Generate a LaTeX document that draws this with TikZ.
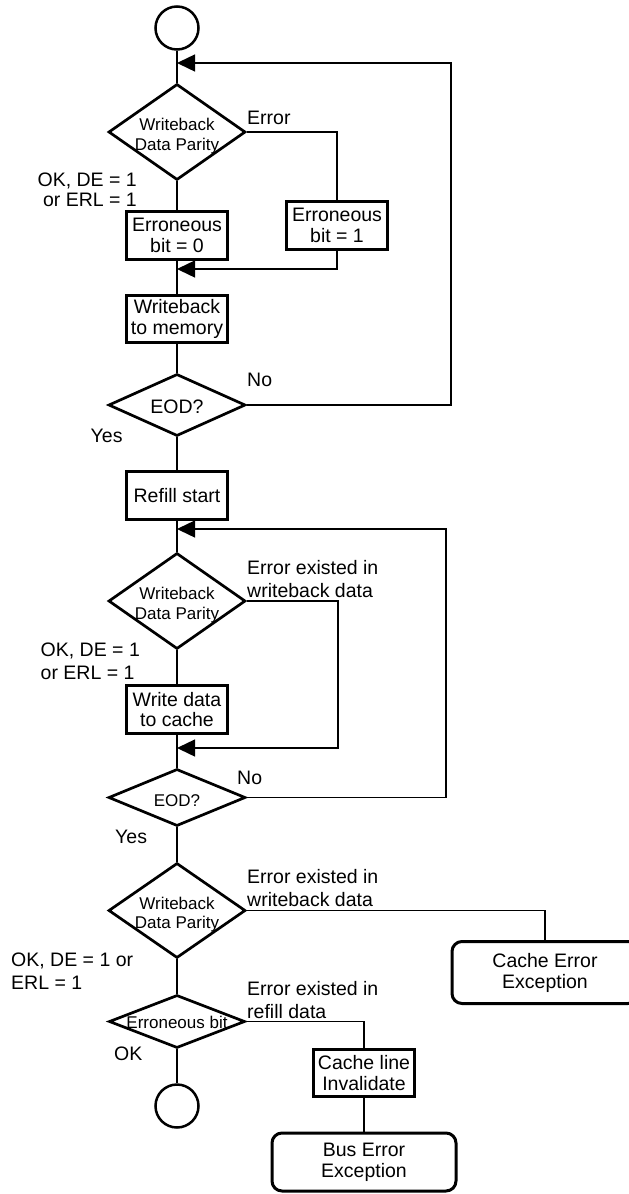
\documentclass[tikz,border=0pt]{standalone}
\usepackage{fontspec}
\setmainfont{Liberation Sans}
\usetikzlibrary{shapes.geometric,arrows.meta}
\begin{document}
\begin{tikzpicture}[x=1pt,y=-1pt,
  conn/.style={line width=1.4pt},
  arr/.style={conn,-{Triangle[length=18pt,width=17pt]}},
  stepbox/.style={draw,line width=3pt,minimum width=101pt,minimum height=47.5pt,inner sep=0pt,align=center,font=\fontsize{19.5}{20.3}\selectfont},
  excbox/.style={draw,line width=3pt,rounded corners=10pt,minimum width=185pt,minimum height=60pt,inner sep=0pt,align=center,font=\fontsize{19.5}{21}\selectfont},
  decision/.style={draw,diamond,line width=2.7pt,inner sep=0pt,minimum width=137pt},
  term/.style={draw,circle,line width=2.5pt,minimum size=43pt,inner sep=0pt},
  lbl/.style={inner sep=0pt,font=\fontsize{19.5}{22.7}\selectfont},
  dtext/.style={font=\fontsize{17}{19.7}\selectfont,align=center,inner sep=0pt}
]
\useasboundingbox (0,0) rectangle (629,1194);
\clip (0,0) rectangle (629,1194);

% ---- writeback phase
\node[term] (start) at (177,28) {};
\node[decision,minimum height=96pt,label={[dtext,yshift=-4pt]center:{Writeback\\Data Parity}}] (d1) at (177,132) {};
\node[stepbox] (b0) at (177,235.5) {Erroneous\\bit = 0};
\node[stepbox] (b1) at (337,225.5) {Erroneous\\bit = 1};
\node[stepbox] (b2) at (177,319) {Writeback\\to memory};
\node[decision,minimum height=62pt,label={[dtext,font=\fontsize{19.5}{20}\selectfont,yshift=-2pt]center:EOD?}] (e1) at (177,405) {};

% ---- refill phase
\node[stepbox] (b3) at (177,495.7) {Refill start};
\node[decision,minimum height=96pt,label={[dtext,yshift=-4pt]center:{Writeback\\Data Parity}}] (d2) at (177,601) {};
\node[stepbox] (b4) at (177,709.5) {Write data\\to cache};
\node[decision,minimum height=57pt,label={[dtext,yshift=-3pt]center:EOD?}] (e2) at (177,797.5) {};

% ---- final checks
\node[decision,minimum height=95pt,label={[dtext,yshift=-4pt]center:{Writeback\\Data Parity}}] (d3) at (177,910.5) {};
\node[decision,minimum height=53pt,minimum width=136pt,label={[dtext,yshift=-1pt]center:Erroneous bit}] (d4) at (177,1021.5) {};
\node[term] (end) at (177,1106) {};
\node[excbox,minimum width=186pt,minimum height=62pt] (cee) at (545,972.5) {Cache Error\\Exception};
\node[stepbox] (b5) at (364,1073) {Cache line\\Invalidate};
\node[excbox,minimum width=184pt,minimum height=58pt] (bee) at (364,1162) {Bus Error\\Exception};

% ---- junctions and loop corners
\coordinate (j1) at (177,63);
\coordinate (j2) at (177,269);
\coordinate (j3) at (177,529);
\coordinate (j4) at (177,748);
\coordinate (r1) at (451,63);
\coordinate (r2) at (446,529);
\coordinate (r3) at (338,748);

% ---- connectors
\draw[conn] (start.south) -- (d1.north);
\draw[conn] (d1.south) -- (b0.north);
\draw[conn] (d1.east) -| (b1.north);
\draw[arr] (b1.south) |- (j2);
\draw[conn] (b0.south) -- (b2.north);
\draw[conn] (b2.south) -- (e1.north);
\draw[arr] (e1.east) -| (r1) -- (j1);
\draw[conn] (e1.south) -- (b3.north);
\draw[conn] (b3.south) -- (d2.north);
\draw[arr] (d2.east) -| (r3) -- (j4);
\draw[conn] (d2.south) -- (b4.north);
\draw[conn] (b4.south) -- (e2.north);
\draw[arr] (e2.east) -| (r2) -- (j3);
\draw[conn] (e2.south) -- (d3.north);
\draw[conn] (d3.east) -| (cee.north);
\draw[conn] (d3.south) -- (d4.north);
\draw[conn] (d4.east) -| (b5.north);
\draw[conn] (b5.south) -- (bee.north);
\draw[conn] (d4.south) -- (end.north);

% ---- branch labels
\node[lbl,anchor=north west] (tErr1) at (247,111) {Error};
\node[lbl,anchor=north east,align=right,font=\fontsize{19.5}{19.7}\selectfont] (tOk1) at (137,172.5) {OK, DE = 1\\or ERL = 1};
\node[lbl,anchor=north west] (tNo1) at (247,373) {No};
\node[lbl,anchor=north west] (tYes1) at (90.5,429) {Yes};
\node[lbl,anchor=north west,align=left] (tErr2) at (247,560) {Error existed in\\writeback data};
\node[lbl,anchor=north west,align=left,font=\fontsize{19.5}{23.3}\selectfont] (tOk2) at (40.5,642.5) {OK, DE = 1\\or ERL = 1};
\node[lbl,anchor=north west] (tNo2) at (237,771) {No};
\node[lbl,anchor=north west] (tYes2) at (115,830) {Yes};
\node[lbl,anchor=north west,align=left] (tErr3) at (247,869) {Error existed in\\writeback data};
\node[lbl,anchor=north west,align=left] (tOk3) at (11,952.5) {OK, DE = 1 or\\ERL = 1};
\node[lbl,anchor=north west,align=left] (tErr4) at (247,981.5) {Error existed in\\refill data};
\node[lbl,anchor=north west] (tOk4) at (114,1046.5) {OK};
\end{tikzpicture}
\end{document}
